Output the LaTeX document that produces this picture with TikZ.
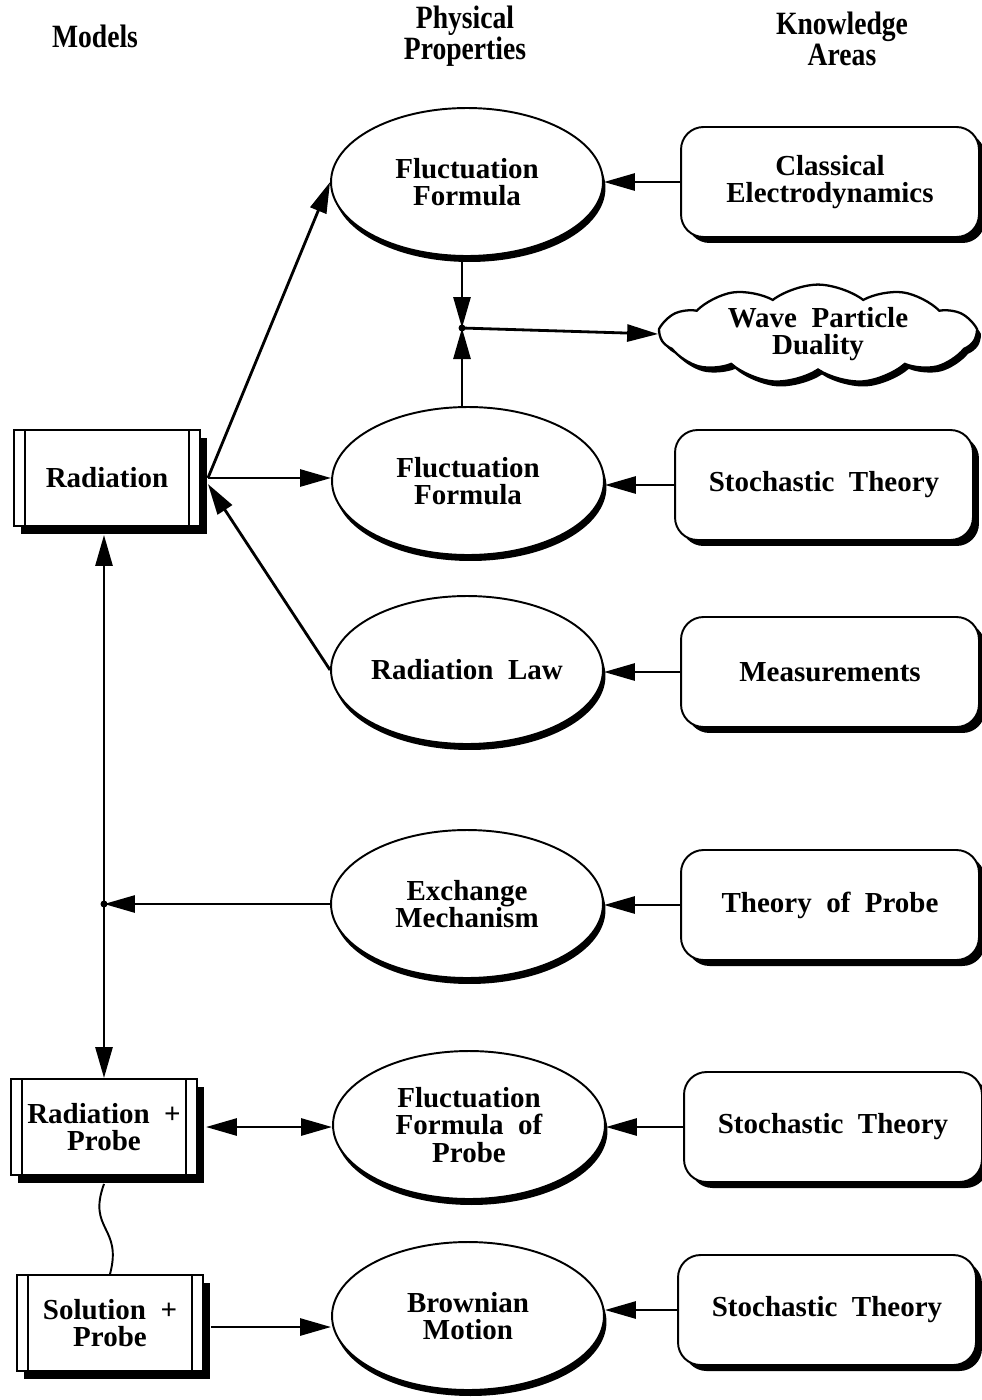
\documentclass[tikz,border=0pt]{standalone}
\usepackage{fontspec}
\setmainfont{Liberation Serif}
\newfontfamily\headfont{Liberation Serif}[FakeStretch=0.85]
\usetikzlibrary{shapes.geometric, shapes.symbols, shadows, arrows.meta}

\tikzset{
  txt/.style={font=\fontsize{16.5}{15.5}\selectfont\bfseries, align=center},
  head/.style={font=\headfont\fontsize{18.5}{15.5}\selectfont\bfseries, align=center},
  physprop/.style={txt, ellipse, draw, line width=1.1pt, fill=white, inner sep=0pt,
    minimum width=5.44cm, minimum height=2.96cm,
    general shadow={fill=black, shadow xshift=0.05cm, shadow yshift=-0.12cm}},
  area/.style={txt, rectangle, rounded corners=0.45cm, draw, line width=1.1pt, fill=white,
    minimum width=5.96cm, minimum height=2.2cm,
    general shadow={fill=black, shadow xshift=0.12cm, shadow yshift=-0.12cm}},
  idea/.style={txt, cloud, cloud puffs=11, cloud puff arc=75, aspect=3.6, draw, line width=1.3pt,
    fill=white, inner sep=0pt, minimum width=6.3cm, minimum height=1.55cm,
    general shadow={fill=black, shadow xshift=0.08cm, shadow yshift=-0.1cm}},
  model/.style={txt, rectangle, draw, line width=1.1pt, fill=white,
    minimum width=3.72cm, minimum height=1.92cm,
    general shadow={fill=black, shadow xshift=0.14cm, shadow yshift=-0.16cm},
    path picture={
      \draw[line width=1.1pt] ([xshift=0.22cm]path picture bounding box.north west)
        -- ([xshift=0.22cm]path picture bounding box.south west);
      \draw[line width=1.1pt] ([xshift=-0.22cm]path picture bounding box.north east)
        -- ([xshift=-0.22cm]path picture bounding box.south east);}},
  link/.style={line width=1.6pt, -{Triangle[length=0.62cm,width=0.34cm]}},
  dlink/.style={line width=1.6pt, {Triangle[length=0.62cm,width=0.34cm]}-{Triangle[length=0.62cm,width=0.34cm]}},
  dot/.style={circle, fill, inner sep=0pt, minimum size=0.14cm},
}

\begin{document}
\begin{tikzpicture}[x=0.02cm, y=-0.02cm]
  \useasboundingbox (0,0) rectangle (981,1400);

  % column heads
  \node [head] (hmod) at (95,36) {Models};
  \node [head] (hphys) at (465,36) {Physical\\Properties};
  \node [head] (hknow) at (842,39) {Knowledge\\Areas};

  % models
  \node [model] (rad) at (107,478) {Radiation};
  \node [model] (rp) at (104,1127) {Radiation~~+\\Probe};
  \node [model] (sp) at (110,1323) {Solution~~+\\Probe};

  % physical properties
  \node [physprop] (ff1) at (467,182) {Fluctuation\\Formula};
  \node [physprop] (ff2) at (468,481) {Fluctuation\\Formula};
  \node [physprop] (rl) at (467,670) {Radiation~~Law};
  \node [physprop] (em) at (467,904) {Exchange\\Mechanism};
  \node [physprop] (ffp) at (469,1125) {Fluctuation\\Formula~~of\\Probe};
  \node [physprop] (bm) at (468,1316) {Brownian\\Motion};

  % knowledge areas
  \node [area] (ce) at (830,182) {Classical\\Electrodynamics};
  \node [idea] (wpd) at (818,334) {Wave~~Particle\\Duality};
  \node [area] (st1) at (824,485) {Stochastic~~Theory};
  \node [area] (me) at (830,672) {Measurements};
  \node [area] (tp) at (830,905) {Theory~~of~~Probe};
  \node [area] (st2) at (833,1127) {Stochastic~~Theory};
  \node [area] (st3) at (827,1310) {Stochastic~~Theory};

  % junctions
  \node [dot] (j1) at (462,328) {};
  \node [dot] (j2) at (em.west -| rp.north) {};

  \draw [link] ([xshift=0.14cm]rad.east) -- (ff1.west);
  \draw [link] ([xshift=0.14cm]rad.east) -- (rad.east -| ff2.west);
  \draw [link] (rl.west) -- ([xshift=0.14cm,yshift=-0.12cm]rad.east);
  \draw [dlink, shorten <=0.16cm] (rad.south -| rp.north) -- (rp.north);
  \draw [link] (em.west) -- (j2.center);

  \draw [link] (ff1.south -| j1) -- (j1.center);
  \draw [link] (ff2.north -| j1) -- (j1.center);
  \draw [link] (j1.center) -- (wpd.west);

  \draw [link] (ce.west) -- (ce.west -| ff1.east);
  \draw [link] (st1.west) -- (st1.west -| ff2.east);
  \draw [link] (me.west) -- (me.west -| rl.east);
  \draw [link] (tp.west) -- (tp.west -| em.east);
  \draw [link] (st2.west) -- (st2.west -| ffp.east);
  \draw [link] (st3.west) -- (st3.west -| bm.east);

  \draw [dlink] ([xshift=0.16cm]rp.east) -- (rp.east -| ffp.west);
  \draw [link] ([xshift=0.14cm,yshift=-0.08cm]sp.east) -- ([yshift=-0.08cm]sp.east -| bm.west);

  \draw [line width=1.1pt] ([yshift=-0.16cm]rp.south) to[out=-110, in=75, looseness=1.4] (sp.north);

\end{tikzpicture}
\end{document}
